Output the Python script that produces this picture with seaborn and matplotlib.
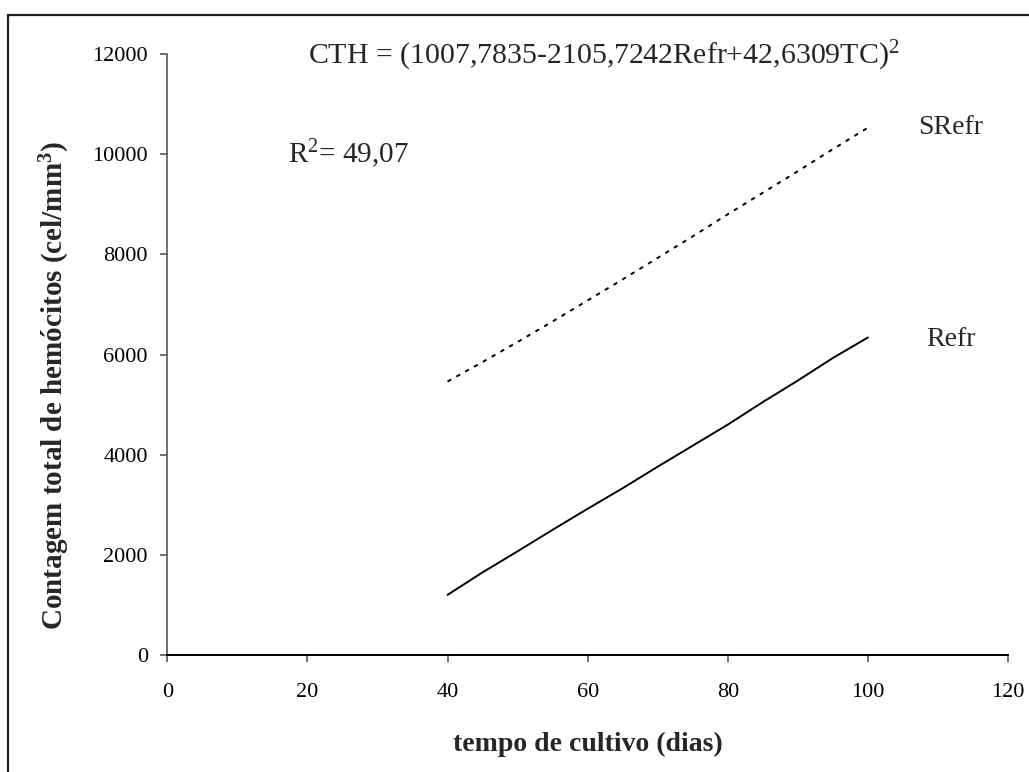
"""Contagem total de hemócitos vs tempo de cultivo (Refr / SRefr)."""

import matplotlib
matplotlib.use("Agg")
import matplotlib.pyplot as plt
import pandas as pd
import seaborn as sns
from matplotlib.patches import Rectangle

# values
dias = [40, 45, 50, 55, 60, 65, 70, 75, 80, 85, 90, 95, 100]
cth_refr = [1200, 1650, 2070, 2500, 2920, 3330, 3760, 4180, 4600, 5050, 5480, 5930, 6340]
cth_srefr = [5460, 5850, 6250, 6660, 7080, 7500, 7930, 8360, 8800, 9230, 9660, 10100, 10530]
series = ["Refr", "SRefr"]
x_ticks = [0, 20, 40, 60, 80, 100, 120]
y_ticks = [0, 2000, 4000, 6000, 8000, 10000, 12000]

sns.set_theme(style="ticks")
plt.rcParams["font.family"] = ["Liberation Serif", "DejaVu Serif"]
plt.rcParams["mathtext.fontset"] = "custom"
plt.rcParams["mathtext.rm"] = "Liberation Serif"
plt.rcParams["mathtext.default"] = "regular"

df = pd.DataFrame({
    "tempo": dias * 2,
    "cth": cth_refr + cth_srefr,
    "trat": [series[0]] * len(dias) + [series[1]] * len(dias),
})

fig = plt.figure(figsize=(10.29, 7.72), dpi=100)
ax = fig.add_axes([0.1626, 0.1516, 0.8170, 0.7784])

sns.lineplot(
    data=df, x="tempo", y="cth", style="trat", ax=ax,
    dashes={"Refr": "", "SRefr": (2.2, 3.0)},
    color="black", linewidth=1.4, legend=False,
)

ax.set_xlim(0, 120)
ax.set_ylim(0, 12000)
ax.set_xticks(x_ticks)
ax.set_yticks(y_ticks)
ax.tick_params(axis="both", direction="out", length=5, width=1.2,
               color="#555555", labelsize=16, labelcolor="black")
ax.tick_params(axis="x", pad=15)
ax.tick_params(axis="y", pad=9)
sns.despine(ax=ax)
ax.spines["left"].set_color("#555555")
ax.spines["bottom"].set_color("black")
ax.spines["left"].set_linewidth(1.2)
ax.spines["bottom"].set_linewidth(1.4)

ax.set_xlabel("tempo de cultivo (dias)", fontsize=20, fontweight="bold")
ax.set_ylabel("Contagem total de hemócitos (cel/mm$^{3}$)", fontsize=21,
              fontweight="bold")
ax.xaxis.set_label_coords(0.5, -0.128)
ax.yaxis.set_label_coords(-0.113, 0.448)

ax.text(20.1, 11800, "CTH = (1007,7835-2105,7242Refr+42,6309TC)$^{2}$",
        fontsize=21.5, ha="left", va="baseline", clip_on=False)
ax.text(17.2, 9824, "R$^{2}$= 49,07", fontsize=21, ha="left", va="baseline")
ax.text(107.2, 10400, "SRefr", fontsize=20, ha="left", va="baseline")
ax.text(108.3, 6170, "Refr", fontsize=20, ha="left", va="baseline")

# outer frame of the chart area (cut off on the right and bottom)
fig.patches.append(Rectangle((8 / 1029, -0.05), 1.2, 1 - 15 / 772 + 0.05,
                             transform=fig.transFigure, fill=False,
                             edgecolor="#222222", linewidth=1.6))

fig.savefig("out.png", dpi=100)
